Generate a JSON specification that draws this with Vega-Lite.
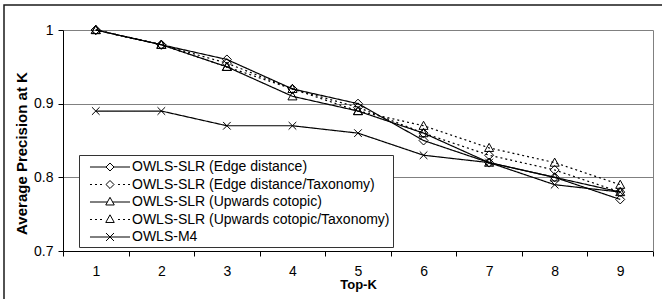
{
  "$schema": "https://vega.github.io/schema/vega-lite/v6.json",
  "width": 658,
  "height": 294,
  "autosize": {"type": "none"},
  "padding": {"left": 4, "top": 5, "right": 0, "bottom": 0},
  "background": "white",
  "config": {
    "view": {"stroke": "#1a1a1a", "strokeWidth": 1.5, "strokeDash": [658, 952, 294, 2]},
    "font": "Liberation Sans",
    "axis": {
      "labelFont": "Liberation Sans", "titleFont": "Liberation Sans",
      "labelFontSize": 14, "titleFontSize": 13,
      "labelColor": "black", "titleColor": "black",
      "domainColor": "black", "tickColor": "black", "titleFontWeight": "bold"
    }
  },
  "data": {"values": [
    {"K": 1, "series": "OWLS-SLR (Edge distance)", "value": 1.0},
    {"K": 2, "series": "OWLS-SLR (Edge distance)", "value": 0.98},
    {"K": 3, "series": "OWLS-SLR (Edge distance)", "value": 0.96},
    {"K": 4, "series": "OWLS-SLR (Edge distance)", "value": 0.92},
    {"K": 5, "series": "OWLS-SLR (Edge distance)", "value": 0.90},
    {"K": 6, "series": "OWLS-SLR (Edge distance)", "value": 0.85},
    {"K": 7, "series": "OWLS-SLR (Edge distance)", "value": 0.82},
    {"K": 8, "series": "OWLS-SLR (Edge distance)", "value": 0.80},
    {"K": 9, "series": "OWLS-SLR (Edge distance)", "value": 0.77},
    {"K": 1, "series": "OWLS-SLR (Edge distance/Taxonomy)", "value": 1.0},
    {"K": 2, "series": "OWLS-SLR (Edge distance/Taxonomy)", "value": 0.98},
    {"K": 3, "series": "OWLS-SLR (Edge distance/Taxonomy)", "value": 0.955},
    {"K": 4, "series": "OWLS-SLR (Edge distance/Taxonomy)", "value": 0.92},
    {"K": 5, "series": "OWLS-SLR (Edge distance/Taxonomy)", "value": 0.895},
    {"K": 6, "series": "OWLS-SLR (Edge distance/Taxonomy)", "value": 0.86},
    {"K": 7, "series": "OWLS-SLR (Edge distance/Taxonomy)", "value": 0.83},
    {"K": 8, "series": "OWLS-SLR (Edge distance/Taxonomy)", "value": 0.81},
    {"K": 9, "series": "OWLS-SLR (Edge distance/Taxonomy)", "value": 0.78},
    {"K": 1, "series": "OWLS-SLR (Upwards cotopic)", "value": 1.0},
    {"K": 2, "series": "OWLS-SLR (Upwards cotopic)", "value": 0.98},
    {"K": 3, "series": "OWLS-SLR (Upwards cotopic)", "value": 0.95},
    {"K": 4, "series": "OWLS-SLR (Upwards cotopic)", "value": 0.91},
    {"K": 5, "series": "OWLS-SLR (Upwards cotopic)", "value": 0.89},
    {"K": 6, "series": "OWLS-SLR (Upwards cotopic)", "value": 0.86},
    {"K": 7, "series": "OWLS-SLR (Upwards cotopic)", "value": 0.82},
    {"K": 8, "series": "OWLS-SLR (Upwards cotopic)", "value": 0.80},
    {"K": 9, "series": "OWLS-SLR (Upwards cotopic)", "value": 0.78},
    {"K": 1, "series": "OWLS-SLR (Upwards cotopic/Taxonomy)", "value": 1.0},
    {"K": 2, "series": "OWLS-SLR (Upwards cotopic/Taxonomy)", "value": 0.98},
    {"K": 3, "series": "OWLS-SLR (Upwards cotopic/Taxonomy)", "value": 0.95},
    {"K": 4, "series": "OWLS-SLR (Upwards cotopic/Taxonomy)", "value": 0.92},
    {"K": 5, "series": "OWLS-SLR (Upwards cotopic/Taxonomy)", "value": 0.89},
    {"K": 6, "series": "OWLS-SLR (Upwards cotopic/Taxonomy)", "value": 0.87},
    {"K": 7, "series": "OWLS-SLR (Upwards cotopic/Taxonomy)", "value": 0.84},
    {"K": 8, "series": "OWLS-SLR (Upwards cotopic/Taxonomy)", "value": 0.82},
    {"K": 9, "series": "OWLS-SLR (Upwards cotopic/Taxonomy)", "value": 0.79},
    {"K": 1, "series": "OWLS-M4", "value": 0.89},
    {"K": 2, "series": "OWLS-M4", "value": 0.89},
    {"K": 3, "series": "OWLS-M4", "value": 0.87},
    {"K": 4, "series": "OWLS-M4", "value": 0.87},
    {"K": 5, "series": "OWLS-M4", "value": 0.86},
    {"K": 6, "series": "OWLS-M4", "value": 0.83},
    {"K": 7, "series": "OWLS-M4", "value": 0.82},
    {"K": 8, "series": "OWLS-M4", "value": 0.79},
    {"K": 9, "series": "OWLS-M4", "value": 0.78}
  ]},
  "layer": [
    {
      "mark": {"type": "line", "color": "black", "strokeWidth": 1.2},
      "encoding": {
        "x": {
          "field": "K", "type": "ordinal",
          "scale": {"type": "band", "range": [59, 649], "paddingInner": 0, "paddingOuter": 0},
          "axis": {"orient": "bottom", "offset": -48, "tickBand": "extent", "labelAngle": 0, "tickSize": 5, "labelPadding": 8, "title": "Top-K", "titlePadding": 0, "grid": false, "domainWidth": 1}
        },
        "y": {
          "field": "value", "type": "quantitative",
          "scale": {"domain": [0.7, 1], "range": [246, 25], "zero": false, "nice": false},
          "axis": {"orient": "left", "offset": -59, "values": [0.7, 0.8, 0.9, 1], "format": ".1~f", "grid": true, "gridColor": "#808080", "gridWidth": 1, "tickSize": 5, "labelPadding": 5, "title": "Average Precision at K", "titleFontSize": 15, "titlePadding": 4, "titleY": 148}
        },
        "strokeDash": {
          "field": "series", "type": "nominal",
          "scale": {
            "domain": ["OWLS-SLR (Edge distance)", "OWLS-SLR (Edge distance/Taxonomy)", "OWLS-SLR (Upwards cotopic)", "OWLS-SLR (Upwards cotopic/Taxonomy)", "OWLS-M4"],
            "range": [[1, 0], [2, 3], [1, 0], [2, 3], [1, 0]]
          },
          "legend": null
        }
      }
    },
    {
      "mark": {"type": "point", "filled": false, "color": "black", "strokeWidth": 1, "size": 81, "opacity": 1},
      "encoding": {
        "x": {"field": "K", "type": "ordinal"},
        "y": {
          "field": "value", "type": "quantitative",
          "axis": {"orient": "right", "offset": -9, "labels": false, "ticks": false, "grid": false, "title": null, "domainColor": "#808080", "values": [0.7, 1]}
        },
        "shape": {
          "field": "series", "type": "nominal",
          "scale": {
            "domain": ["OWLS-SLR (Edge distance)", "OWLS-SLR (Edge distance/Taxonomy)", "OWLS-SLR (Upwards cotopic)", "OWLS-SLR (Upwards cotopic/Taxonomy)", "OWLS-M4"],
            "range": ["M0,-1L1,0L0,1L-1,0Z", "M0,-1L1,0L0,1L-1,0Z", "M0,-1L1,0.8L-1,0.8Z", "M0,-1L1,0.8L-1,0.8Z", "M-0.85,-0.85L0.85,0.85M-0.85,0.85L0.85,-0.85"]
          },
          "legend": null
        }
      }
    },
    {
      "transform": [{"filter": "false"}],
      "mark": {"type": "point", "filled": false, "color": "black", "strokeWidth": 1, "opacity": 1},
      "encoding": {
        "x": {"field": "K", "type": "ordinal"},
        "y": {"field": "value", "type": "quantitative", "axis": null},
        "shape": {
          "field": "series", "type": "nominal",
          "scale": {
            "domain": ["OWLS-SLR (Edge distance)", "OWLS-SLR (Edge distance/Taxonomy)", "OWLS-SLR (Upwards cotopic)", "OWLS-SLR (Upwards cotopic/Taxonomy)", "OWLS-M4"],
            "range": [
              "M-2.353,0H-0.47M0.47,0H2.353M0,-0.47L0.47,0L0,0.47L-0.47,0Z",
              "M-2.353,0H-2.118M-1.765,0H-1.529M-1.176,0H-0.941M0.941,0H1.176M1.529,0H1.765M2.118,0H2.353M0,-0.47L0.47,0L0,0.47L-0.47,0Z",
              "M-2.353,0H-0.31M0.31,0H2.353M0,-0.55L0.5,0.35L-0.5,0.35Z",
              "M-2.353,0H-2.118M-1.765,0H-1.529M-1.176,0H-0.941M0.941,0H1.176M1.529,0H1.765M2.118,0H2.353M0,-0.55L0.5,0.35L-0.5,0.35Z",
              "M-2.353,0H2.353M-0.47,-0.47L0.47,0.47M-0.47,0.47L0.47,-0.47"
            ]
          },
          "legend": {
            "orient": "none", "legendX": 75, "legendY": 150, "title": null,
            "padding": 3, "strokeColor": "#333333", "fillColor": "white",
            "labelFont": "Liberation Sans", "labelFontSize": 14, "labelColor": "black", "labelLimit": 400,
            "labelExpr": "datum.label + '\u00a0\u00a0\u00a0'",
            "symbolStrokeWidth": 1, "symbolSize": 289, "symbolOffset": 19, "labelOffset": 13, "rowPadding": 1.5,
            "symbolStrokeColor": "black", "symbolFillColor": "transparent", "symbolOpacity": 1
          }
        }
      }
    }
  ],
  "resolve": {"axis": {"y": "independent"}, "scale": {"shape": "independent"}}
}
